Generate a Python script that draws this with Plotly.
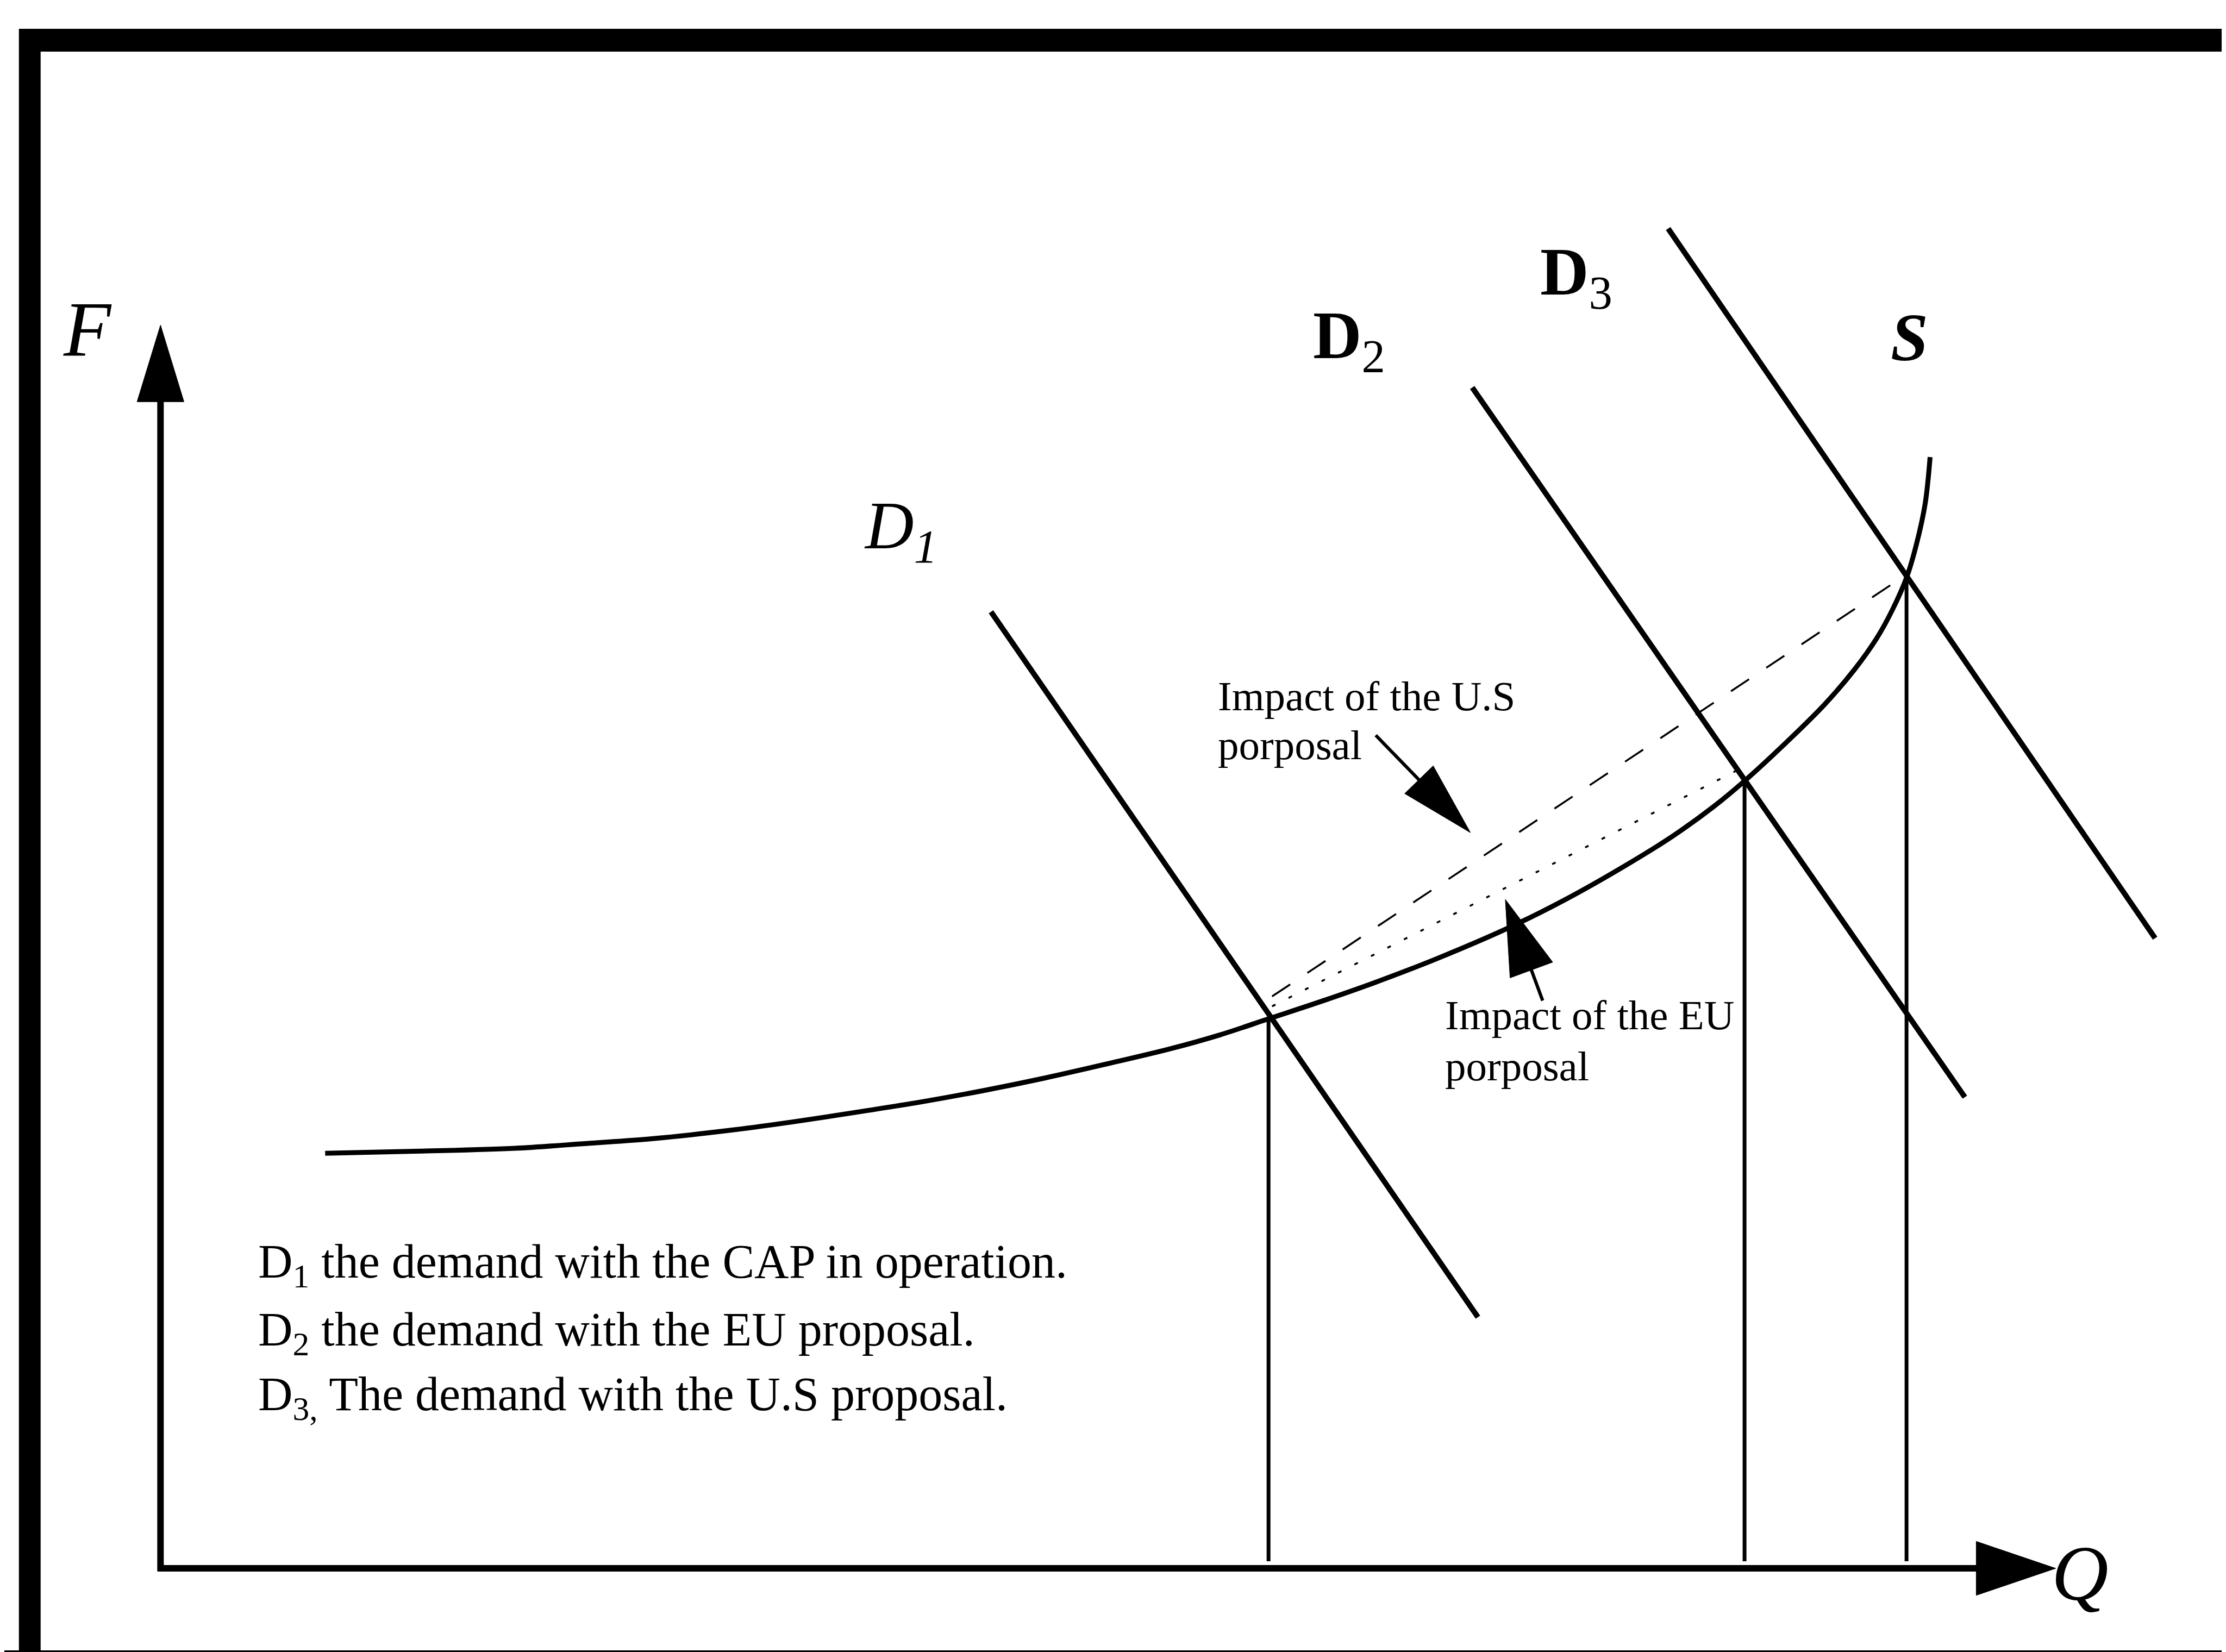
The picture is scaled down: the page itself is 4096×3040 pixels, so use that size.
import math
import plotly.graph_objects as go

# ---------------- data (diagram units: Q along the horizontal axis, F along the vertical axis) ----------------
S_Q = [116, 184, 250, 300, 347, 404, 447, 496, 535, 579, 623, 667, 711, 746, 780.5,
       820, 856, 900, 951, 990, 1031.5, 1065, 1094, 1115.8, 1146, 1172, 1193, 1209, 1220, 1229.9,
       1237, 1243, 1246.5]
S_F = [292.5, 294, 296, 299.4, 302.8, 309, 314.8, 322.3, 328.5, 336.5, 345.5, 355.5, 366, 375.8, 387.2,
       400.3, 413, 430, 452, 471.5, 495, 515.8, 536.7, 554.8, 582.7, 608.5, 633, 655.5, 675.5, 698,
       722, 750, 783]

D1_Q = [585, 928]
D1_F = [674, 177]
D2_Q = [924, 1271]
D2_F = [832, 332]
D3_Q = [1062, 1405]
D3_F = [944, 444]

EQ_Q = [780.5, 1115.8, 1229.9]   # equilibria of S with D1, D2, D3
EQ_F = [387.2, 554.8, 698]

US_LINE_Q = [783, 1228]          # impact of the U.S proposal (dashed)
US_LINE_F = [403, 699]
EU_LINE_Q = [783, 1110]          # impact of the EU proposal (dotted)
EU_LINE_F = [396, 562]

AXIS_F_TOP = 876
AXIS_Q_END = 1335

US_ARROW_Q = [856, 922.7]        # tail, tip
US_ARROW_F = [587, 518.4]
EU_ARROW_Q = [973.6, 947.3]
EU_ARROW_F = [400, 471.3]

CURVE_LABELS = ["<i>D<sub>1</sub></i>", "<b>D</b><sub>2</sub>", "<b>D</b><sub>3</sub>", "<b><i>S</i></b>"]
LEGEND_LINES = ["D<sub>1</sub> the demand with the CAP in operation.",
                "D<sub>2</sub> the demand with the EU proposal.",
                "D<sub>3,</sub> The demand with the U.S proposal."]
US_TEXT = ["Impact of the U.S", "porposal"]
EU_TEXT = ["Impact of the EU", "porposal"]

# ---------------- styling ----------------
FONT = "Liberation Serif"
BLACK = "black"

fig = go.Figure()


def line(q, f, width, dash=None, shape="linear"):
    fig.add_trace(go.Scatter(x=q, y=f, mode="lines", hoverinfo="skip",
                             line=dict(color=BLACK, width=width, dash=dash, shape=shape,
                                       smoothing=1.0 if shape == "spline" else None)))


def arrow(tail_q, tail_f, tip_q, tip_f, width, length, half):
    dq, df = tip_q - tail_q, tip_f - tail_f
    n = math.hypot(dq, df)
    uq, uf = dq / n, df / n
    bq, bf = tip_q - uq * length, tip_f - uf * length
    pq, pf = -uf, uq
    line([tail_q, bq + uq * 2], [tail_f, bf + uf * 2], width)
    fig.add_trace(go.Scatter(x=[tip_q, bq + pq * half, bq - pq * half, tip_q],
                             y=[tip_f, bf + pf * half, bf - pf * half, tip_f],
                             mode="lines", fill="toself", fillcolor=BLACK, hoverinfo="skip",
                             line=dict(color=BLACK, width=1)))


# axes with arrowheads
arrow(0, -2, 0, AXIS_F_TOP, 12, 54, 16.5)
arrow(-2, 0, AXIS_Q_END, 0, 12, 56, 19)

# vertical drop lines from equilibria
for q, f in zip(EQ_Q, EQ_F):
    line([q, q], [5, f], 7)

# impact lines
line(US_LINE_Q, US_LINE_F, 3.5, dash="40px,38px")
line(EU_LINE_Q, EU_LINE_F, 3.5, dash="7px,27px")

# demand curves
for q, f in [(D1_Q, D1_F), (D2_Q, D2_F), (D3_Q, D3_F)]:
    line(q, f, 10)

# supply curve
line(S_Q, S_F, 9, shape="spline")

# pointer arrows
arrow(US_ARROW_Q[0], US_ARROW_F[0], US_ARROW_Q[1], US_ARROW_F[1], 6, 52, 14)
arrow(EU_ARROW_Q[0], EU_ARROW_F[0], EU_ARROW_Q[1], EU_ARROW_F[1], 6, 53, 16)

# ---------------- text ----------------
ann = []


def text(t, q, f, size, xanchor="left"):
    ann.append(dict(text=t, x=q, y=f, xref="x", yref="y", showarrow=False,
                    xanchor=xanchor, yanchor="middle",
                    font=dict(family=FONT, size=size, color=BLACK)))


text("<i>F</i>", -51.5, 873, 143, "center")
text("<i>Q</i>", 1352, -3.5, 145, "center")

label_pos = [(495, 731), (811, 865), (971, 910), (1218, 867)]
for t, (q, f) in zip(CURVE_LABELS, label_pos):
    text(t, q, f, 124)

for t, f in zip(LEGEND_LINES, [214, 166, 120.5]):
    text(t, 68, f, 88)

for t, f in zip(US_TEXT, [614.7, 580.3]):
    text(t, 744, f, 77)
for t, f in zip(EU_TEXT, [390, 353.8]):
    text(t, 904, f, 77)

# ---------------- frame (paper coordinates) ----------------
shapes = [
    dict(type="line", xref="paper", yref="paper", x0=0.0066, x1=1.0, y0=0.97826, y1=0.97826,
         line=dict(color=BLACK, width=42)),
    dict(type="line", xref="paper", yref="paper", x0=0.01142, x1=0.01142, y0=-0.02, y1=0.985,
         line=dict(color=BLACK, width=40)),
    dict(type="line", xref="paper", yref="paper", x0=0.0, x1=1.0, y0=-0.003, y1=-0.003,
         line=dict(color=BLACK, width=40)),
]

fig.update_layout(
    width=4096, height=3040,
    margin=dict(l=0, r=0, t=0, b=0),
    paper_bgcolor="white", plot_bgcolor="white",
    showlegend=False,
    xaxis=dict(range=[-110, 1458], visible=False, fixedrange=True),
    yaxis=dict(range=[-62, 1102], visible=False, fixedrange=True),
    annotations=ann,
    shapes=shapes,
)

fig.write_html("out.html")
